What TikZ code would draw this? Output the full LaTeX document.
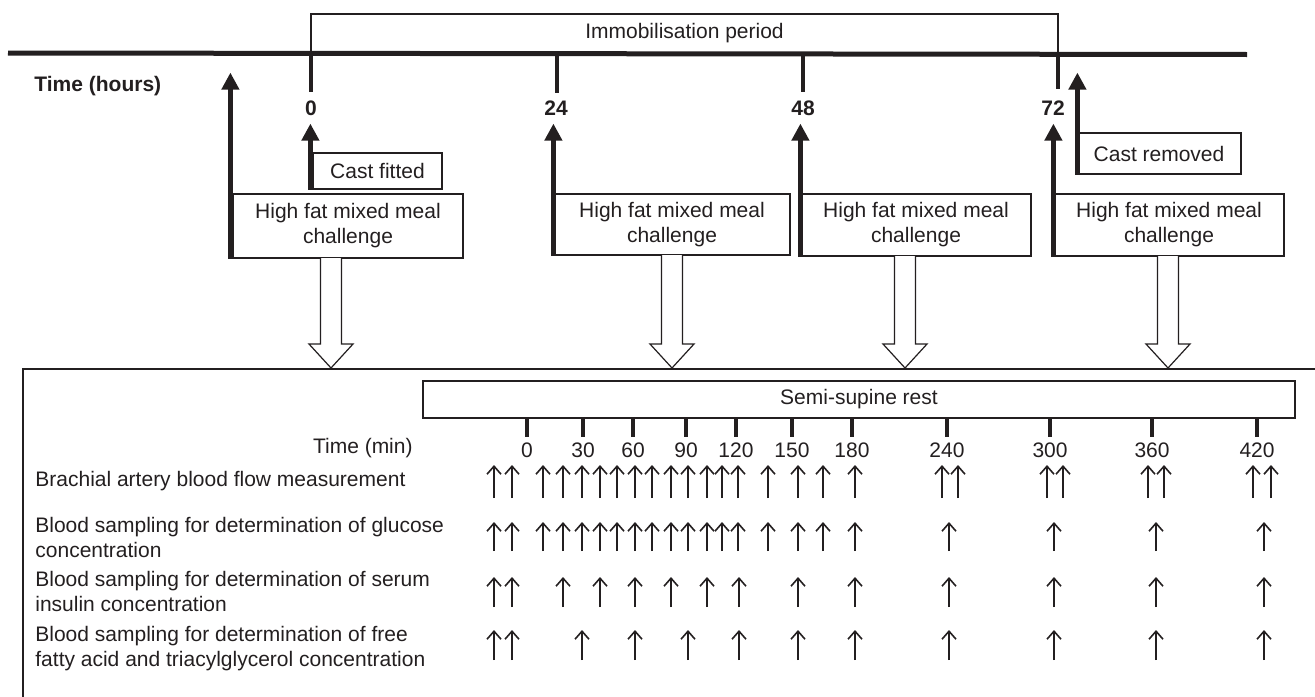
\documentclass[tikz,border=0pt]{standalone}
\usepackage{fontspec}
\setmainfont{Liberation Sans}
\usetikzlibrary{arrows.meta}
\definecolor{ink}{HTML}{231F20}
\begin{document}
\begin{tikzpicture}[x=0.5pt,y=-0.5pt,
  txt/.style={font=\fontsize{10.5}{12.5}\selectfont, text=ink, inner sep=0pt},
  boldtxt/.style={font=\fontsize{10.5}{12.5}\selectfont\bfseries, text=ink, inner sep=0pt},
  box/.style={draw=ink, line width=0.6pt, txt, align=center},
  bigarrow/.style={draw=ink, line width=2.5pt, -{Triangle[length=8.5pt,width=8.5pt]}},
  tickmark/.style={draw=ink, line width=2pt},
  smallarrow/.style={draw=ink, line width=0.8pt, -{Straight Barb[length=4pt,width=7pt]}},
  hollow/.style={draw=ink, line width=0.6pt, fill=white}
]
\useasboundingbox (0,0) rectangle (1315,696);

% immobilisation period box and timeline
\node[box, line width=1pt, minimum width=373.5pt, minimum height=19.5pt] (imm) at (684.5,33.5) {Immobilisation period};
\draw[draw=ink, line width=2.5pt] (8,53) coordinate (tl) -- (1247,54.5) coordinate (tr);

% hour ticks and labels
\foreach \x/\lab/\b in {311/0/92,557/24/93,803/48/92,1058/72/89}{
  \draw[tickmark] (\x,53) -- (\x,\b);
}
\node[boldtxt] (h0) at (311,108) {0};
\node[boldtxt] (h24) at (556,108) {24};
\node[boldtxt] (h48) at (803,108) {48};
\node[boldtxt] (h72) at (1053,108) {72};
\node[boldtxt, anchor=west] (th) at (34,86) {Time (hours)};

% event boxes
\node[box, minimum width=64.5pt, minimum height=18pt] (cf) at (377.5,171) {Cast fitted};
\node[box, minimum width=82pt, minimum height=20.5pt] (cr) at (1159,153.5) {Cast removed};
\node[box, minimum width=115pt, minimum height=32pt] (hf1) at (348,226) {High fat mixed meal\\challenge};
\node[box, minimum width=118pt, minimum height=30.5pt] (hf2) at (672,224.5) {High fat mixed meal\\challenge};
\node[box, minimum width=115pt, minimum height=31pt] (hf3) at (916,225) {High fat mixed meal\\challenge};
\node[box, minimum width=115pt, minimum height=31pt] (hf4) at (1169,225) {High fat mixed meal\\challenge};

% thick arrows
\draw[bigarrow] ([xshift=-1pt]hf1.south west) -- ++(0,-186);
\draw[bigarrow] ([xshift=-1pt]cf.south west) -- ++(0,-66);
\draw[bigarrow] (hf2.south west) -- ++(0,-132);
\draw[bigarrow] (hf3.south west) -- ++(0,-133);
\draw[bigarrow] (hf4.south west) -- ++(0,-133);
\draw[bigarrow] ([xshift=0.5pt]cr.south west) -- ++(0,-102);

% hollow arrows
\foreach \cx/\y in {331/258,672/255,905/256,1168/256}{
  \draw[hollow] (\cx-10.5,\y) -- (\cx-10.5,344) -- (\cx-22,344) -- (\cx,368)
     -- (\cx+22,344) -- (\cx+10.5,344) -- (\cx+10.5,\y);
}

% lower panel
\draw[draw=ink, line width=0.6pt] (23,700) coordinate (pbl) -- (23,369) coordinate (ptl) -- (1320,369) coordinate (ptr);
\node[box, line width=1.2pt, minimum width=436pt, minimum height=18.5pt] (ssr) at (859,399.5) {Semi-supine rest};

\foreach \x/\lab in {527/0,583/30,633/60,686/90,736/120,792/150,852/180,947/240,1050/300,1152/360,1257/420}{
  \draw[tickmark] (\x,418) -- (\x,437);
  \node[txt] (m\lab) at (\x,450) {\lab};
}
\node[txt, anchor=east] (tm) at (413,448) {Time (min)};

\node[txt, anchor=west] (l1) at (35,481) {Brachial artery blood flow measurement};
\node[txt, anchor=west, align=left] (l2) at (35,537.5) {Blood sampling for determination of glucose\\concentration};
\node[txt, anchor=west, align=left] (l3) at (35,591.5) {Blood sampling for determination of serum\\insulin concentration};
\node[txt, anchor=west, align=left] (l4) at (35,648.5) {Blood sampling for determination of free\\fatty acid and triacylglycerol concentration};

% sampling arrows
\foreach \x in {494,512,543,563,582,600,617,635,652,671,688,707,722,738,768,798,823,855,942,958,1047,1063,1148,1164,1253,1271}{
  \draw[smallarrow] (\x,498) -- (\x,465);
}
\foreach \x in {494,512,543,563,582,600,617,635,652,671,688,707,722,738,768,798,823,855,949,1054,1156,1264}{
  \draw[smallarrow] (\x,551) -- (\x,522);
}
\foreach \x in {494,512,563,600,635,671,707,739,798,855,949,1054,1156,1264}{
  \draw[smallarrow] (\x,607) -- (\x,577);
}
\foreach \x in {494,512,582,635,688,739,798,855,949,1054,1156,1264}{
  \draw[smallarrow] (\x,660) -- (\x,630);
}
\end{tikzpicture}
\end{document}
